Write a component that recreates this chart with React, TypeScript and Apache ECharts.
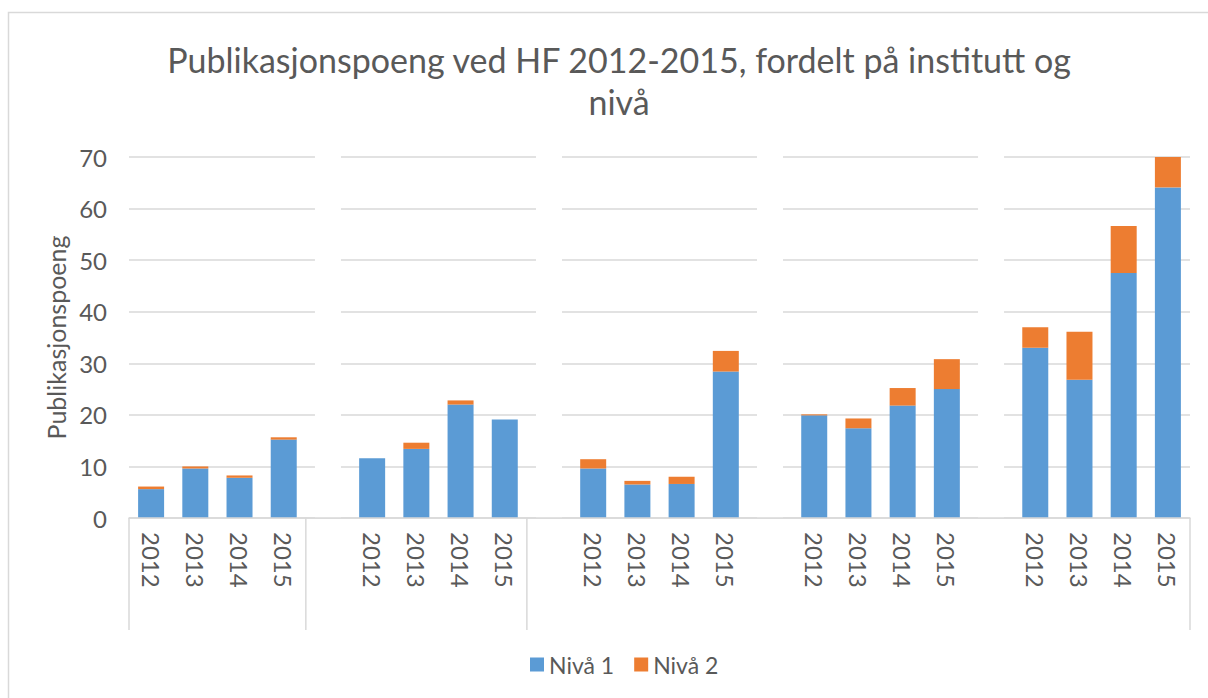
import React, { useEffect, useRef } from "react";
import * as echarts from "echarts";

const years = ["2012", "2013", "2014", "2015"];
const groupCount = 5;
// Nivå 1 values, group by group (4 years each)
const niva1 = [
  5.6, 9.6, 7.8, 15.2,
  11.6, 13.4, 22.0, 19.1,
  9.6, 6.5, 6.6, 28.4,
  19.9, 17.4, 21.8, 25.0,
  33.0, 26.8, 47.5, 64.1,
];
// Nivå 2 values
const niva2 = [
  0.5, 0.4, 0.45, 0.45,
  0, 1.2, 0.8, 0,
  1.8, 0.7, 1.4, 4.0,
  0.2, 1.9, 3.4, 5.8,
  4.0, 9.3, 9.1, 5.9,
];
const yTicks = { min: 0, max: 70, interval: 10 };

const FONT = "Lato, 'Open Sans', sans-serif";
const TXT = "#595959";
const GRID_C = "#d9d9d9";

export default function App() {
  const ref = useRef<HTMLDivElement>(null);

  useEffect(() => {
    document.body.style.margin = "0";
    if (!ref.current) return;
    const chart = echarts.init(ref.current, null, { renderer: "svg" });

    // build categories: spacer before groups 2..5
    const cats: string[] = [];
    const d1: any[] = [];
    const d2: any[] = [];
    const sp: any[] = [];
    const groupEnd: number[] = [];
    for (let g = 0; g < groupCount; g++) {
      if (g > 0) {
        cats.push("");
        d1.push("-");
        d2.push("-");
        sp.push(yTicks.max + 0.3);
      }
      for (let k = 0; k < years.length; k++) {
        cats.push(years[k]);
        d1.push(niva1[g * 4 + k]);
        d2.push(niva2[g * 4 + k]);
        sp.push("-");
      }
      groupEnd.push(cats.length - 1);
    }

    chart.setOption({
      animation: false,
      textStyle: { fontFamily: FONT },
      title: {
        text: "Publikasjonspoeng ved HF 2012-2015, fordelt på institutt og\nnivå",
        left: 614,
        top: 33,
        textAlign: "center",
        textStyle: {
          fontFamily: FONT,
          fontSize: 34,
          fontWeight: "normal",
          color: TXT,
          lineHeight: 42,
          align: "center",
        },
      },
      grid: { left: 129, right: 18, top: 157, bottom: 180 },
      legend: {
        data: ["Nivå 1", "Nivå 2"],
        bottom: 17,
        left: 525,
        icon: "rect",
        itemWidth: 14,
        itemHeight: 14,
        itemGap: 20,
        textStyle: { fontFamily: FONT, fontSize: 23, color: TXT },
      },
      xAxis: {
        type: "category",
        data: cats,
        z: 5,
        axisLine: { lineStyle: { color: GRID_C, width: 1.5 } },
        axisTick: { show: false },
        axisLabel: {
          rotate: -90,
          interval: 0,
          margin: 14,
          fontSize: 24,
          color: TXT,
          fontFamily: FONT,
        },
      },
      yAxis: {
        type: "value",
        min: yTicks.min,
        max: yTicks.max,
        interval: yTicks.interval,
        name: "Publikasjonspoeng",
        nameLocation: "middle",
        nameGap: 53,
        nameTextStyle: { fontSize: 25, color: TXT, fontFamily: FONT },
        axisLine: { show: false },
        axisTick: { show: false },
        axisLabel: { fontSize: 24, color: TXT, margin: 22, fontFamily: FONT },
        splitLine: { lineStyle: { color: GRID_C, width: 1.5 } },
      },
      series: [
        {
          name: "Nivå 1",
          type: "bar",
          stack: "total",
          data: d1,
          barWidth: 26,
          itemStyle: { color: "#5b9bd5" },
        },
        {
          name: "Nivå 2",
          type: "bar",
          stack: "total",
          data: d2,
          barWidth: 26,
          itemStyle: { color: "#ed7d31" },
        },
        {
          name: "spacer",
          type: "bar",
          data: sp,
          barWidth: 26,
          barGap: "-100%",
          clip: false,
          silent: true,
          itemStyle: { color: "#ffffff" },
        },
      ],
    });

    const cx = (i: number) => chart.convertToPixel({ xAxisIndex: 0 }, i) as number;
    const half = (cx(1) - cx(0)) / 2;
    const y0 = chart.convertToPixel({ yAxisIndex: 0 }, 0) as number;
    const sepX = [cx(0) - half, cx(groupEnd[0]) + half, cx(groupEnd[1]) + half, cx(groupEnd[groupCount - 1]) + half];
    chart.setOption({
      graphic: [
        {
          type: "polyline",
          shape: { points: [[8.5, 700], [8.5, 12.5], [1210, 12.5]] },
          style: { stroke: GRID_C, lineWidth: 1.5, fill: "none" },
        },
        ...sepX.map((x) => ({
          type: "line",
          shape: { x1: x, y1: y0, x2: x, y2: y0 + 112 },
          style: { stroke: GRID_C, lineWidth: 1.5 },
        })),
      ],
    });

    return () => chart.dispose();
  }, []);

  return <div ref={ref} style={{ width: 1208, height: 698 }} />;
}
